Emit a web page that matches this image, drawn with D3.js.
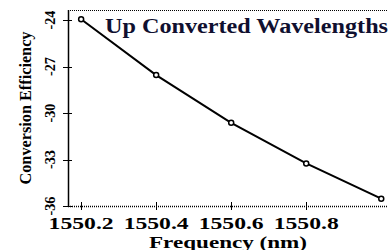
<!DOCTYPE html>
<html>
  <head>
    <style type="text/css">
        body { margin: 0; background: #fff; }
        svg text { font-family: "Liberation Serif", "DejaVu Serif", serif; font-weight: bold; }
    </style>
  </head>
  <body>
    <svg width="390" height="250"></svg>
    <script src="https://d3js.org/d3.v7.min.js"></script>
    <script>

    // Data
    var wavelengths = [1550.2, 1550.4, 1550.6, 1550.8, 1551.0];
    var efficiency = [-23.95, -27.55, -30.63, -33.25, -35.53];
    var xTicks = [1550.2, 1550.4, 1550.6, 1550.8];
    var yTicks = [-24, -27, -30, -33, -36];

    var svg = d3.select("svg");

    var mLeft = 68, mRight = 388, mTop = 10, mBottom = 206;

    var x = d3.scaleLinear()
        .domain([1550.165, 1551.018])
        .range([mLeft, mRight]);

    var y = d3.scaleLinear()
        .domain([-36, -23.35])
        .range([mBottom, mTop]);

    // frame: dotted top and bottom, solid left
    svg.append("line")
        .attr("x1", mLeft).attr("x2", mRight)
        .attr("y1", mTop + 0.5).attr("y2", mTop + 0.5)
        .attr("stroke", "#000").attr("stroke-width", 1)
        .attr("stroke-dasharray", "1,1");

    svg.append("line")
        .attr("x1", mLeft).attr("x2", mRight)
        .attr("y1", mBottom + 0.5).attr("y2", mBottom + 0.5)
        .attr("stroke", "#000").attr("stroke-width", 1.5)
        .attr("stroke-dasharray", "1,1");

    svg.append("line")
        .attr("x1", mLeft + 0.5).attr("x2", mLeft + 0.5)
        .attr("y1", mTop).attr("y2", mBottom)
        .attr("stroke", "#000").attr("stroke-width", 1.5);

    // y ticks (cross the axis)
    svg.selectAll(".ytick")
      .data(yTicks)
      .enter().append("line")
        .attr("x1", mLeft - 5).attr("x2", mLeft + 4)
        .attr("y1", function(d) { return Math.round(y(d)) + 0.5; })
        .attr("y2", function(d) { return Math.round(y(d)) + 0.5; })
        .attr("stroke", "#000").attr("stroke-width", 1);

    svg.selectAll(".ylab")
      .data(yTicks)
      .enter().append("text")
        .attr("transform", function(d) { return "translate(54.5," + y(d) + ") rotate(-90)"; })
        .attr("text-anchor", "middle")
        .attr("font-size", 15)
        .attr("textLength", 19)
        .attr("lengthAdjust", "spacingAndGlyphs")
        .attr("fill", "#000")
        .text(function(d) { return d; });

    // x ticks
    svg.selectAll(".xtick")
      .data(xTicks)
      .enter().append("line")
        .attr("x1", function(d) { return Math.round(x(d)) + 0.5; })
        .attr("x2", function(d) { return Math.round(x(d)) + 0.5; })
        .attr("y1", mBottom - 4).attr("y2", mBottom + 4)
        .attr("stroke", "#000").attr("stroke-width", 1);

    svg.selectAll(".xlab")
      .data(xTicks)
      .enter().append("text")
        .attr("x", function(d) { return x(d); })
        .attr("y", 228.5)
        .attr("text-anchor", "middle")
        .attr("font-size", 16)
        .attr("textLength", 65)
        .attr("lengthAdjust", "spacingAndGlyphs")
        .attr("fill", "#000")
        .text(function(d) { return d.toFixed(1); });

    // axis titles
    svg.append("text")
        .attr("transform", "translate(31,108) rotate(-90)")
        .attr("text-anchor", "middle")
        .attr("font-size", 16)
        .attr("textLength", 153)
        .attr("lengthAdjust", "spacingAndGlyphs")
        .attr("fill", "#000")
        .text("Conversion Efficiency");

    svg.append("text")
        .attr("x", 228)
        .attr("y", 248)
        .attr("text-anchor", "middle")
        .attr("font-size", 16)
        .attr("textLength", 158)
        .attr("lengthAdjust", "spacingAndGlyphs")
        .attr("fill", "#000")
        .text("Frequency (nm)");

    // legend title
    svg.append("text")
        .attr("x", 105)
        .attr("y", 33)
        .attr("font-size", 20)
        .attr("textLength", 283)
        .attr("lengthAdjust", "spacingAndGlyphs")
        .attr("fill", "#101030")
        .text("Up Converted Wavelengths");

    // line + markers
    var pts = wavelengths.map(function(w, i) { return [w, efficiency[i]]; });

    svg.append("path")
        .datum(pts)
        .attr("fill", "none")
        .attr("stroke", "#000")
        .attr("stroke-width", 2)
        .attr("d", d3.line()
            .x(function(d) { return x(d[0]); })
            .y(function(d) { return y(d[1]); }));

    svg.selectAll(".pt")
      .data(pts)
      .enter().append("circle")
        .attr("cx", function(d) { return x(d[0]); })
        .attr("cy", function(d) { return y(d[1]); })
        .attr("r", 2.5)
        .attr("fill", "#fff")
        .attr("stroke", "#000")
        .attr("stroke-width", 1.5);

    </script>
  </body>
</html>
